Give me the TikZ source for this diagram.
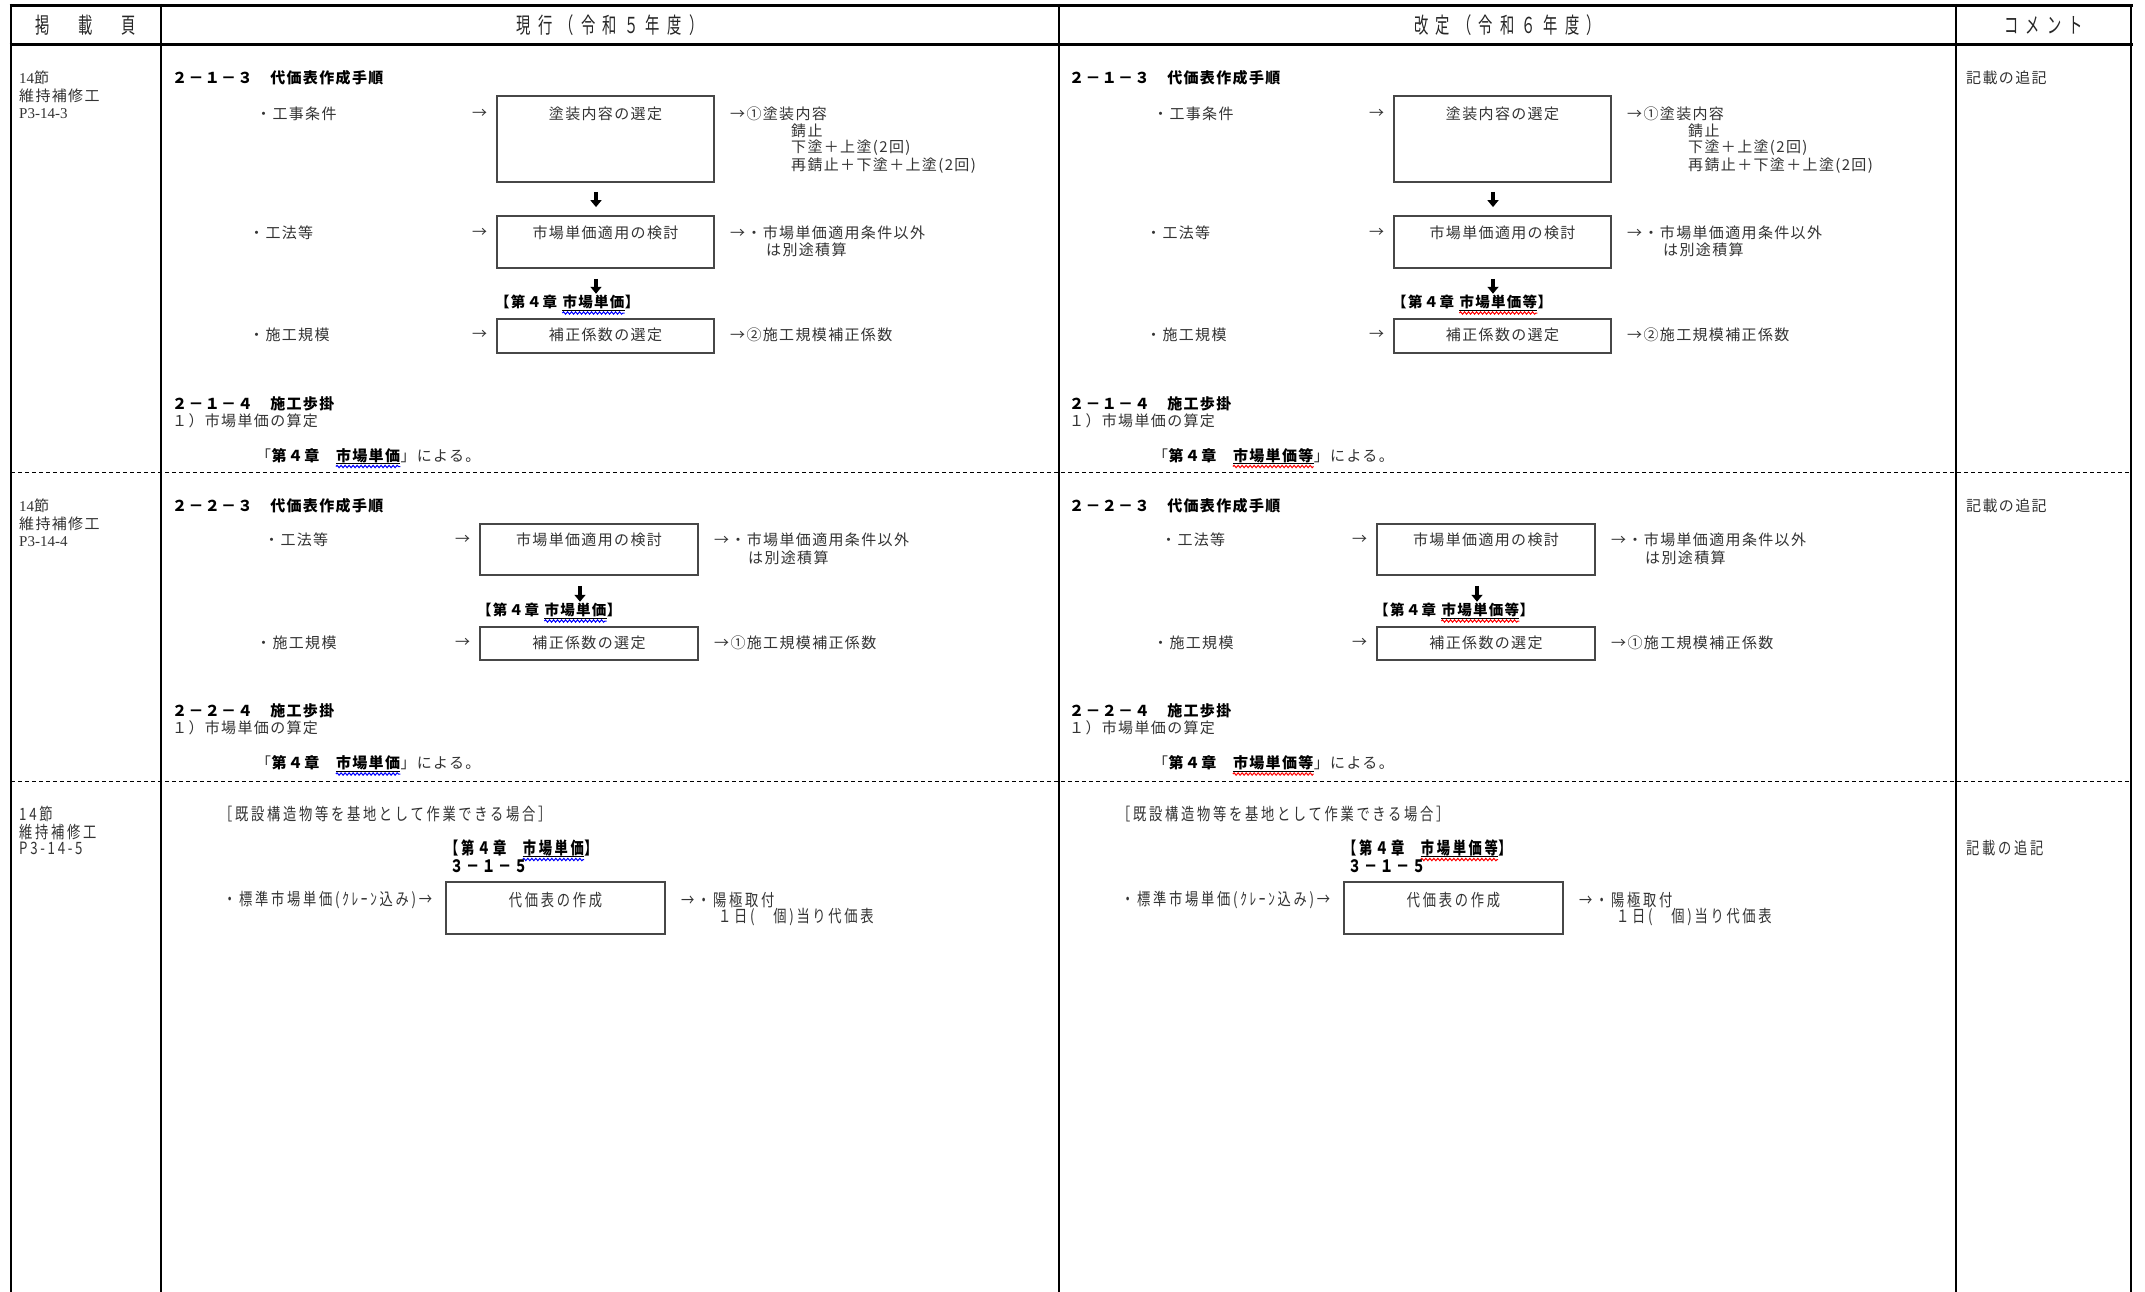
\documentclass[tikz,border=0pt]{standalone}
\usepackage{fontspec}
\usetikzlibrary{arrows.meta,decorations.pathmorphing}
\newfontfamily\jpfont[LetterSpace=9]{Noto Sans CJK JP}
\newfontfamily\jpcond[FakeStretch=0.78,LetterSpace=16]{Noto Sans CJK JP}
\newfontfamily\jphead[FakeStretch=0.65,LetterSpace=33]{Noto Sans CJK JP}
\newfontfamily\sernum{Liberation Serif}
\tikzset{
 tx/.style={anchor=west, inner sep=0pt, text=black!80, font=\jpfont\fontsize{15pt}{18pt}\selectfont},
 txc/.style={tx, anchor=center},
 hb/.style={anchor=west, inner sep=0pt, text=black, font=\jpfont\bfseries\fontsize{15pt}{18pt}\selectfont},
 lb/.style={anchor=base west, inner sep=0pt, text=black, font=\jpfont\bfseries\fontsize{14.5pt}{18pt}\selectfont},
 c3/.style={anchor=west, inner sep=0pt, text=black!80, font=\jpcond\fontsize{17pt}{18pt}\selectfont},
 c3c/.style={c3, anchor=center},
 c3b/.style={anchor=base west, inner sep=0pt, text=black, font=\jpcond\bfseries\fontsize{17pt}{18pt}\selectfont},
 hdr/.style={anchor=center, inner sep=0pt, text=black!85, font=\jphead\fontsize{22pt}{24pt}\selectfont},
 box/.style={draw=black!72, line width=1.8pt, inner sep=0pt},
 gridline/.style={line width=2.5pt, black},
 dsh/.style={line width=1pt, black, dash pattern=on 4pt off 3pt},
 downarr/.style={line width=3.2pt, black, -{Triangle[length=7pt,width=11pt]}},
 wave/.style={decorate, decoration={snake, amplitude=1.2pt, segment length=4pt}, line width=1pt},
 uline/.style={line width=1pt, black},
}
% ---------- section 1 ----------
\newcommand{\secA}[3]{%
 \node[hb] (#1a0) at (172,78) {２－１－３　代価表作成手順};
 \node[tx] (#1a1) at (256,113.5) {・工事条件};
 \node[tx] (#1a2) at (472,113.5) {→};
 \node[box, minimum width=217pt, minimum height=86pt] (#1ab1) at (605.5,139) {};
 \node[txc] (#1ab1t) at (605.5,113.5) {塗装内容の選定};
 \node[tx] (#1a3) at (730,113.5) {→①塗装内容};
 \node[tx] (#1a4) at (791,131) {錆止};
 \node[tx] (#1a5) at (791,148) {下塗＋上塗(2回)};
 \node[tx] (#1a6) at (791,165.5) {再錆止＋下塗＋上塗(2回)};
 \node[tx] (#1a7) at (249,232.5) {・工法等};
 \node[tx] (#1a8) at (472,232.5) {→};
 \node[box, minimum width=217pt, minimum height=52pt] (#1ab2) at (605.5,242) {};
 \node[txc] (#1ab2t) at (605.5,232.5) {市場単価適用の検討};
 \node[tx] (#1a9) at (730,232.5) {→・市場単価適用条件以外};
 \node[tx] (#1a10) at (766,250) {は別途積算};
 \node[lb] (#1aL1) at (495,307.5) {【第４章};
 \node[lb] (#1aL2) at ([xshift=5pt]#1aL1.base east) {#2};
 \node[lb] (#1aL3) at (#1aL2.base east) {】};
 \draw[uline] ([yshift=-2.5pt]#1aL2.base west) -- ([yshift=-2.5pt]#1aL2.base east);
 \draw[wave,#3] ([yshift=-5.5pt]#1aL2.base west) -- ([yshift=-5.5pt]#1aL2.base east);
 \node[tx] (#1a11) at (249,335) {・施工規模};
 \node[tx] (#1a12) at (472,335) {→};
 \node[box, minimum width=217pt, minimum height=34pt] (#1ab3) at (605.5,336) {};
 \node[txc] (#1ab3t) at (605.5,335) {補正係数の選定};
 \node[tx] (#1a13) at (730,335) {→②施工規模補正係数};
 \coordinate (#1ax) at (596,0);
 \draw[downarr, shorten <=9pt, shorten >=8pt] (#1ab1.south -| #1ax) -- (#1ab2.north -| #1ax);
 \draw[downarr, shorten <=10pt, shorten >=1pt] (#1ab2.south -| #1ax) -- (#1aL1.north -| #1ax);
 \node[hb] (#1a14) at (172,403.5) {２－１－４　施工歩掛};
 \node[tx] (#1a15) at (172,421) {１）市場単価の算定};
 \node[tx, anchor=base west] (#1aQ1) at (256,461) {「};
 \node[hb, anchor=base west] (#1aQ2) at (#1aQ1.base east) {第４章　};
 \node[hb, anchor=base west] (#1aQ3) at (#1aQ2.base east) {#2};
 \node[tx, anchor=base west] (#1aQ4) at (#1aQ3.base east) {」による。};
 \draw[uline] ([yshift=-2.5pt]#1aQ3.base west) -- ([yshift=-2.5pt]#1aQ3.base east);
 \draw[wave,#3] ([yshift=-5.5pt]#1aQ3.base west) -- ([yshift=-5.5pt]#1aQ3.base east);
}
% ---------- section 2 ----------
\newcommand{\secB}[3]{%
 \node[hb] (#1b0) at (172,506) {２－２－３　代価表作成手順};
 \node[tx] (#1b1) at (264,540) {・工法等};
 \node[tx] (#1b2) at (455,540) {→};
 \node[box, minimum width=218pt, minimum height=51pt] (#1bb1) at (589,549.5) {};
 \node[txc] (#1bb1t) at (589,540) {市場単価適用の検討};
 \node[tx] (#1b3) at (714,540) {→・市場単価適用条件以外};
 \node[tx] (#1b4) at (748,558) {は別途積算};
 \node[lb] (#1bL1) at (477,615.5) {【第４章};
 \node[lb] (#1bL2) at ([xshift=5pt]#1bL1.base east) {#2};
 \node[lb] (#1bL3) at (#1bL2.base east) {】};
 \draw[uline] ([yshift=-2.5pt]#1bL2.base west) -- ([yshift=-2.5pt]#1bL2.base east);
 \draw[wave,#3] ([yshift=-5.5pt]#1bL2.base west) -- ([yshift=-5.5pt]#1bL2.base east);
 \node[tx] (#1b5) at (256,643) {・施工規模};
 \node[tx] (#1b6) at (455,643) {→};
 \node[box, minimum width=218pt, minimum height=33pt] (#1bb2) at (589,643.5) {};
 \node[txc] (#1bb2t) at (589,643) {補正係数の選定};
 \node[tx] (#1b7) at (714,643) {→①施工規模補正係数};
 \coordinate (#1bx) at (580,0);
 \draw[downarr, shorten <=10pt, shorten >=1pt] (#1bb1.south -| #1bx) -- (#1bL1.north -| #1bx);
 \node[hb] (#1b8) at (172,711) {２－２－４　施工歩掛};
 \node[tx] (#1b9) at (172,728) {１）市場単価の算定};
 \node[tx, anchor=base west] (#1bQ1) at (256,768.5) {「};
 \node[hb, anchor=base west] (#1bQ2) at (#1bQ1.base east) {第４章　};
 \node[hb, anchor=base west] (#1bQ3) at (#1bQ2.base east) {#2};
 \node[tx, anchor=base west] (#1bQ4) at (#1bQ3.base east) {」による。};
 \draw[uline] ([yshift=-2.5pt]#1bQ3.base west) -- ([yshift=-2.5pt]#1bQ3.base east);
 \draw[wave,#3] ([yshift=-5.5pt]#1bQ3.base west) -- ([yshift=-5.5pt]#1bQ3.base east);
}
% ---------- section 3 ----------
\newcommand{\secC}[3]{%
 \node[c3] (#1c0) at (219,814) {［既設構造物等を基地として作業できる場合］};
 \node[c3b] (#1cL1) at (445,854) {【第４章　};
 \node[c3b] (#1cL2) at (#1cL1.base east) {#2};
 \node[c3b] (#1cL3) at (#1cL2.base east) {】};
 \draw[uline] ([yshift=-2.5pt]#1cL2.base west) -- ([yshift=-2.5pt]#1cL2.base east);
 \draw[wave,#3] ([yshift=-5.5pt]#1cL2.base west) -- ([yshift=-5.5pt]#1cL2.base east);
 \node[c3b] (#1c1) at (450,872) {３－１－５};
 \node[c3] (#1c2) at (223,900) {・標準市場単価(ｸﾚｰﾝ込み)→};
 \node[box, minimum width=219pt, minimum height=52pt] (#1cb1) at (555.5,908) {};
 \node[c3c] (#1cb1t) at (555.5,900) {代価表の作成};
 \node[c3] (#1c3) at (681,900) {→・陽極取付};
 \node[c3] (#1c4) at (718,917) {１日(　個)当り代価表};
}
\begin{document}
\begin{tikzpicture}[x=1pt,y=-1pt]
\useasboundingbox (0,0) rectangle (2145,1292);
\fill[white] (0,0) rectangle (2145,1292);
% table
\draw[line width=3pt] (9.5,5.5) -- (2132.5,5.5);
\draw[line width=3pt] (9.5,45) -- (2132.5,45);
\foreach \xx in {11,161,1059,1956,2131} \draw[gridline] (\xx,4) -- (\xx,1300);
\draw[dsh] (11,472) -- (2131,472);
\draw[dsh] (11,781) -- (2131,781);
% header
\node[hdr] (h1) at (86,25) {掲　載　頁};
\node[hdr] (h2) at (610,25) {現行（令和５年度）};
\node[hdr] (h3) at (1507.5,25) {改定（令和６年度）};
\node[hdr] (h4) at (2043.5,25) {コメント};
% left column
\node[tx] (p1a) at (19,78) {{\sernum 14}節};
\node[tx] (p1b) at (19,96) {維持補修工};
\node[tx] (p1c) at (19,113.5) {\sernum P3-14-3};
\node[tx] (p2a) at (19,506) {{\sernum 14}節};
\node[tx] (p2b) at (19,524) {維持補修工};
\node[tx] (p2c) at (19,541.5) {\sernum P3-14-4};
\node[c3] (p3a) at (19,814) {14節};
\node[c3] (p3b) at (19,832) {維持補修工};
\node[c3] (p3c) at (19,848) {P3-14-5};
% comments
\node[tx] (k1) at (1966,78) {記載の追記};
\node[tx] (k2) at (1966,506) {記載の追記};
\node[c3] (k3) at (1966,848) {記載の追記};
% current
\secA{c}{市場単価}{blue}
\secB{c}{市場単価}{blue}
\secC{c}{市場単価}{blue}
% revised
\begin{scope}[xshift=897pt]
\secA{r}{市場単価等}{red}
\secB{r}{市場単価等}{red}
\end{scope}
\begin{scope}[xshift=898pt]
\secC{r}{市場単価等}{red}
\end{scope}
\end{tikzpicture}
\end{document}
